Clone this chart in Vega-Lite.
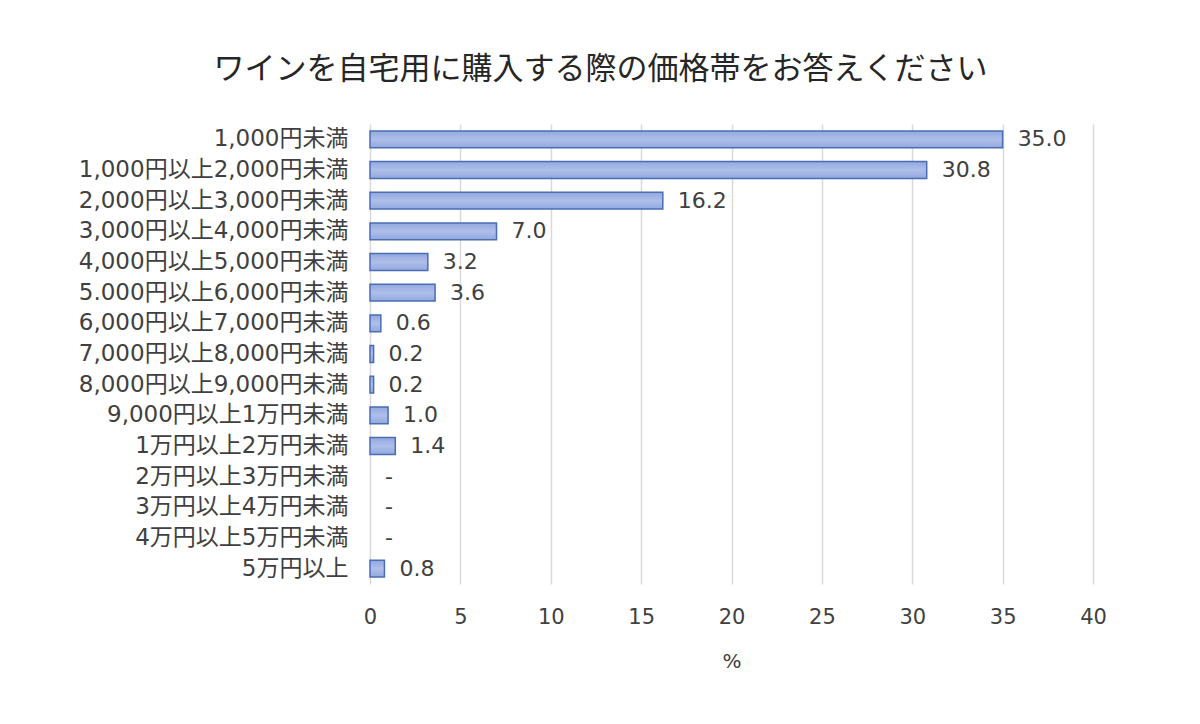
{
  "$schema": "https://vega.github.io/schema/vega-lite/v6.json",
  "width": 723,
  "height": 460,
  "autosize": {"type": "none"},
  "padding": {"left": 370, "top": 124, "right": 107, "bottom": 140},
  "background": "white",
  "title": {
    "text": "ワインを自宅用に購入する際の価格帯をお答えください",
    "font": "Noto Sans CJK JP",
    "fontSize": 31,
    "fontWeight": "normal",
    "color": "#262626",
    "anchor": "middle",
    "dx": -131,
    "offset": 38
  },
  "data": {
    "values": [
      {"category": "1,000円未満", "value": 35.0, "label": "35.0"},
      {"category": "1,000円以上2,000円未満", "value": 30.8, "label": "30.8"},
      {"category": "2,000円以上3,000円未満", "value": 16.2, "label": "16.2"},
      {"category": "3,000円以上4,000円未満", "value": 7.0, "label": "7.0"},
      {"category": "4,000円以上5,000円未満", "value": 3.2, "label": "3.2"},
      {"category": "5.000円以上6,000円未満", "value": 3.6, "label": "3.6"},
      {"category": "6,000円以上7,000円未満", "value": 0.6, "label": "0.6"},
      {"category": "7,000円以上8,000円未満", "value": 0.2, "label": "0.2"},
      {"category": "8,000円以上9,000円未満", "value": 0.2, "label": "0.2"},
      {"category": "9,000円以上1万円未満", "value": 1.0, "label": "1.0"},
      {"category": "1万円以上2万円未満", "value": 1.4, "label": "1.4"},
      {"category": "2万円以上3万円未満", "value": 0, "label": "-"},
      {"category": "3万円以上4万円未満", "value": 0, "label": "-"},
      {"category": "4万円以上5万円未満", "value": 0, "label": "-"},
      {"category": "5万円以上", "value": 0.8, "label": "0.8"}
    ]
  },
  "encoding": {
    "y": {
      "field": "category",
      "type": "nominal",
      "sort": null,
      "scale": {"paddingInner": 0.45, "paddingOuter": 0.225},
      "axis": {
        "title": null,
        "domain": false,
        "ticks": false,
        "grid": false,
        "labelPadding": 22,
        "labelFont": "DejaVu Sans, Noto Sans CJK JP",
        "labelFontSize": 23,
        "labelColor": "#404040",
        "labelLimit": 400
      }
    },
    "x": {
      "field": "value",
      "type": "quantitative",
      "scale": {"domain": [0, 40], "nice": false},
      "axis": {
        "values": [0, 5, 10, 15, 20, 25, 30, 35, 40],
        "title": "%",
        "titleFont": "DejaVu Sans",
        "titleFontSize": 20,
        "titleFontWeight": "normal",
        "titleColor": "#404040",
        "titlePadding": 24,
        "domain": false,
        "ticks": false,
        "grid": true,
        "gridColor": "#D9D9D9",
        "gridWidth": 1.5,
        "labelPadding": 22,
        "labelFlush": false,
        "labelFont": "DejaVu Sans",
        "labelFontSize": 21,
        "labelColor": "#404040"
      }
    }
  },
  "layer": [
    {
      "mark": {
        "type": "bar",
        "color": {
          "gradient": "linear",
          "x1": 0, "y1": 0, "x2": 0, "y2": 1,
          "stops": [
            {"offset": 0, "color": "#92A8DD"},
            {"offset": 0.5, "color": "#AEBFEA"},
            {"offset": 1, "color": "#92A8DD"}
          ]
        },
        "stroke": "#4A6DB4",
        "strokeWidth": 1.5
      },
      "encoding": {
        "strokeOpacity": {"condition": {"test": "datum.value > 0", "value": 1}, "value": 0}
      }
    },
    {
      "mark": {
        "type": "text",
        "align": "left",
        "baseline": "middle",
        "dx": 15,
        "font": "DejaVu Sans",
        "fontSize": 22,
        "color": "#404040"
      },
      "encoding": {"text": {"field": "label"}}
    }
  ],
  "config": {
    "view": {"stroke": null}
  }
}
